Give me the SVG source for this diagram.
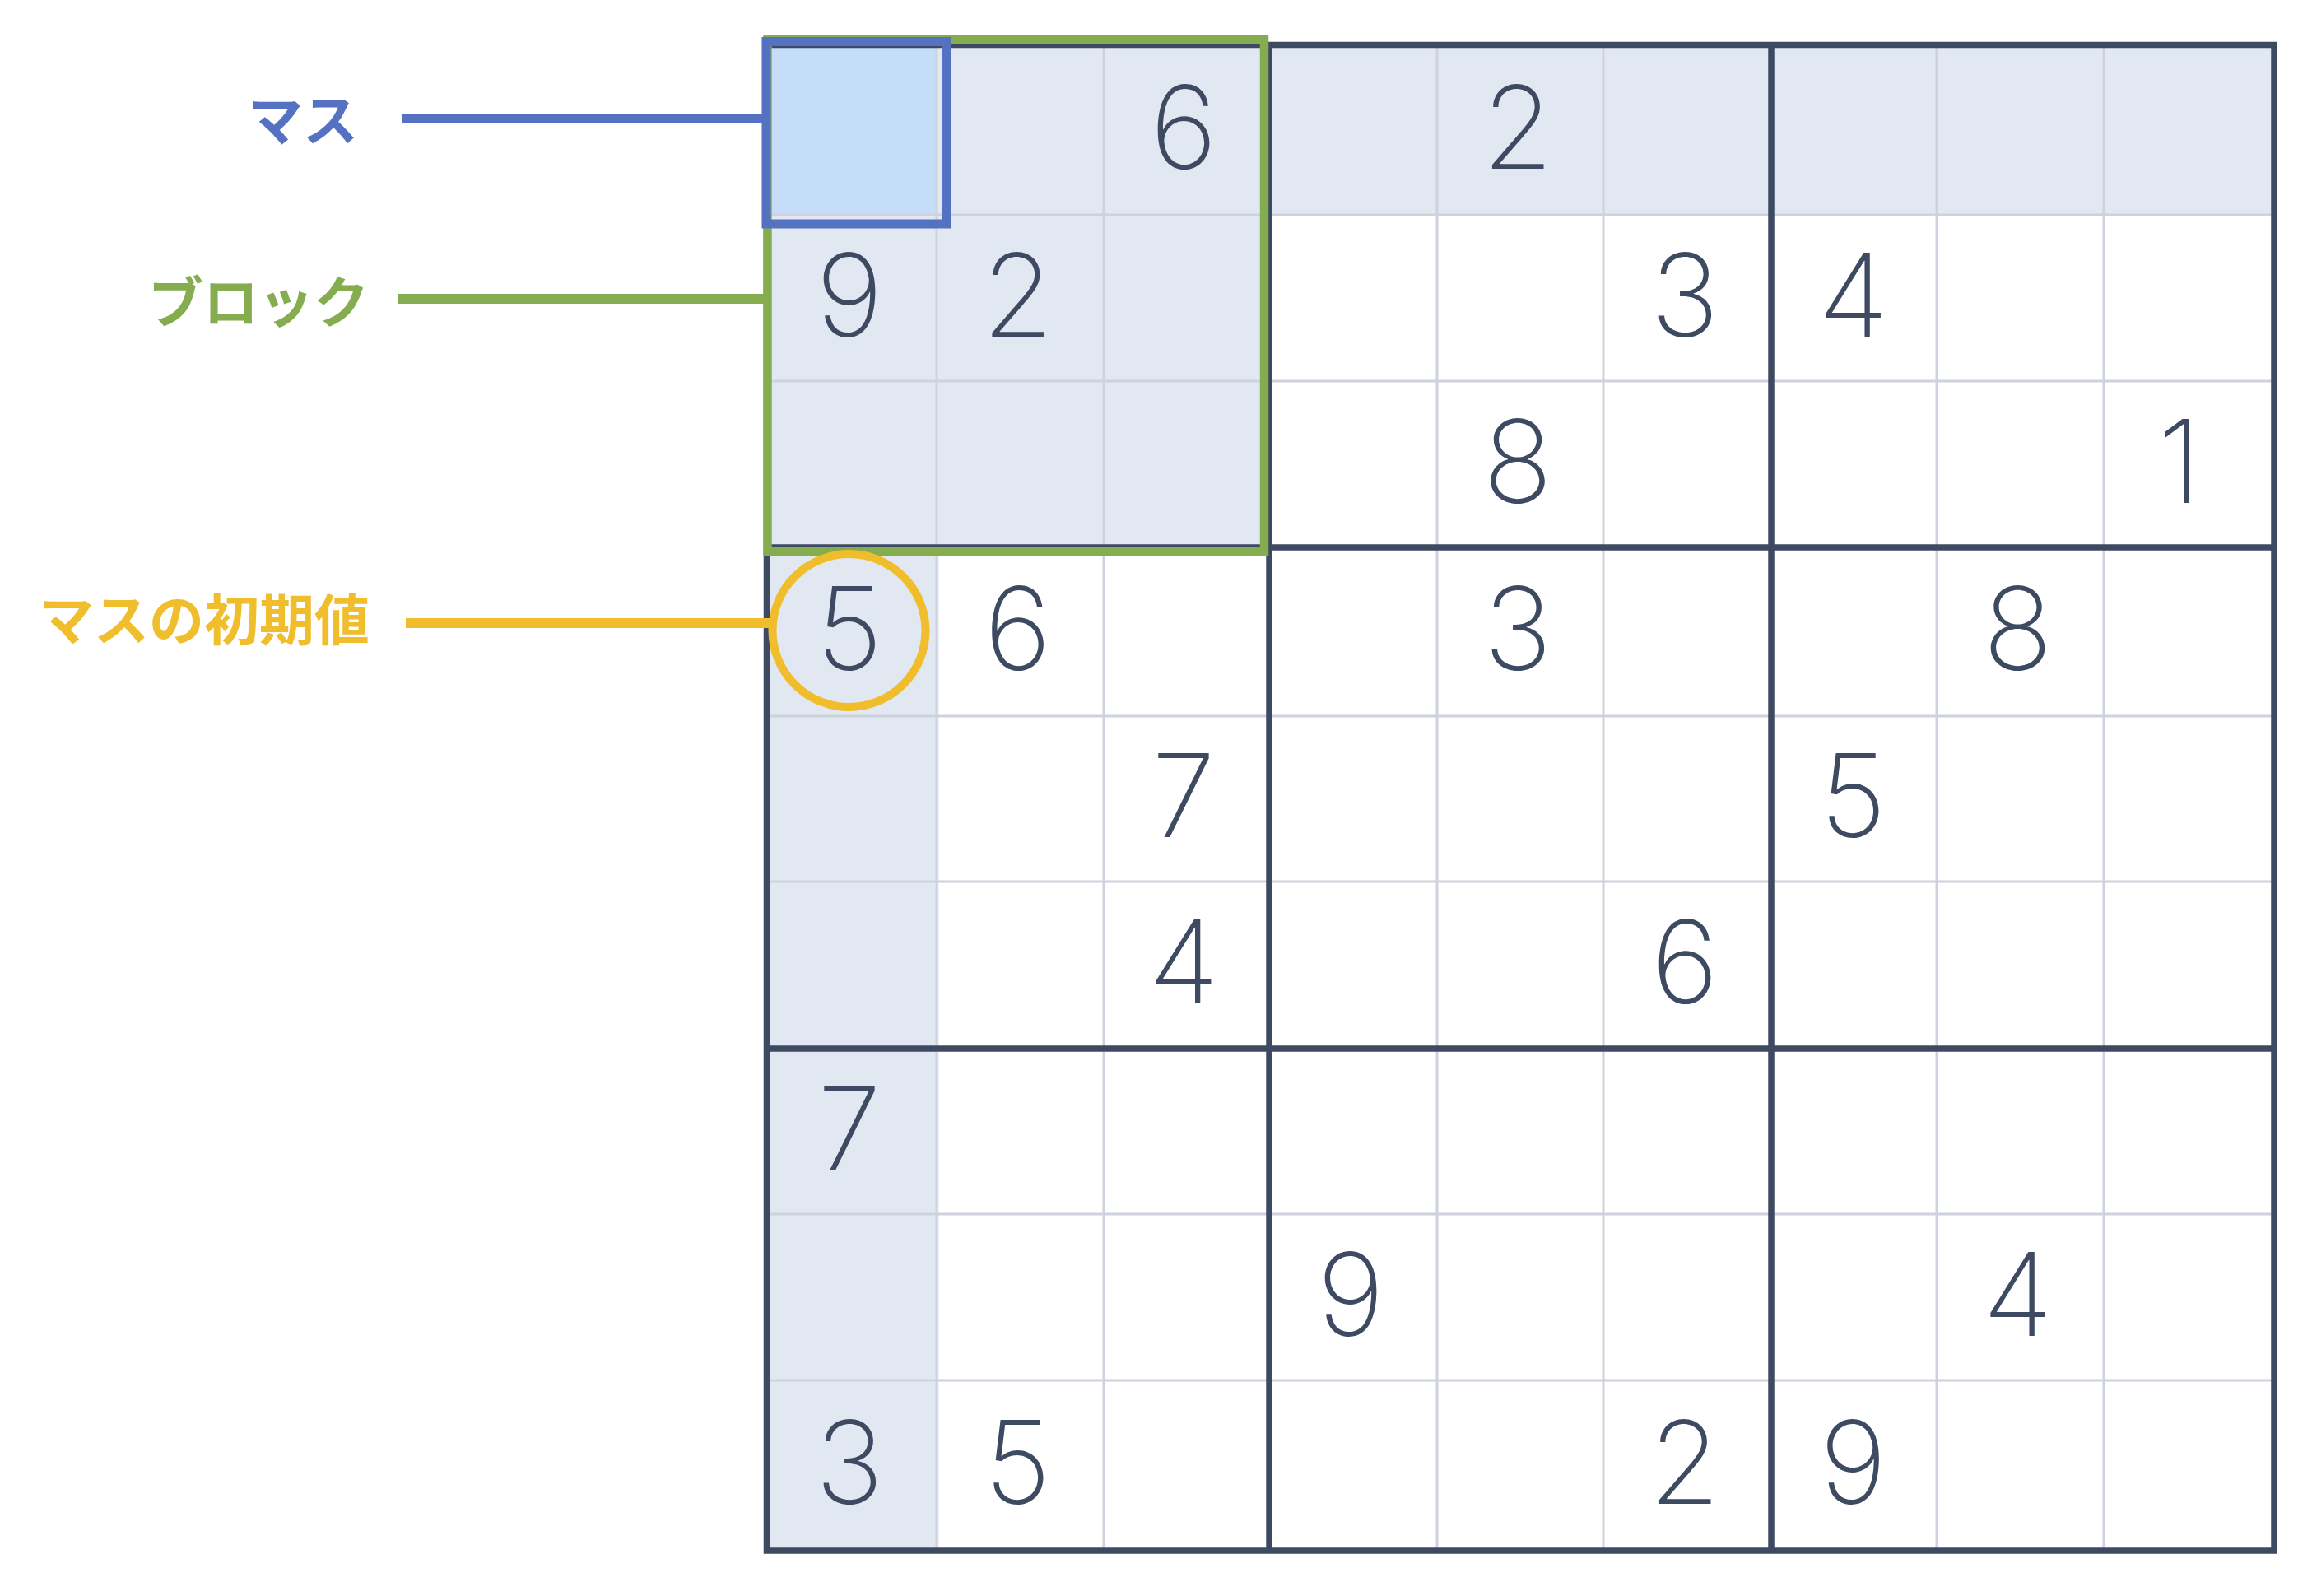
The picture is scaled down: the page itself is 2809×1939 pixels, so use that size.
<svg xmlns="http://www.w3.org/2000/svg" width="2809" height="1939" viewBox="0 0 2809 1939">
  <style>
    .shade { fill: #E2E8F1; }
    .thin { stroke: #CDD2DE; stroke-width: 3; fill: none; }
    .thick { stroke: #3D4A62; stroke-width: 7.5; fill: none; }
    .digit { font-family: Inter, Roboto, "Liberation Sans", sans-serif; font-weight: 250; font-size: 140px; fill: #3D4A62; text-anchor: middle; }
    .label { font-family: "Noto Sans CJK JP", "Noto Sans CJK SC", sans-serif; font-weight: 700; font-size: 67px; text-anchor: end; }
  </style>
  <rect x="0" y="0" width="2809" height="1939" fill="#FFFFFF"/>

  <g id="grid">
    <rect class="shade" x="931.5" y="54.5" width="1831.5" height="206.5"/>
    <rect class="shade" x="931.5" y="54.5" width="209" height="1829.5"/>
    <rect class="shade" x="931.5" y="54.5" width="610.5" height="610.5"/>
    <rect id="cell-highlight" x="931.5" y="54.5" width="206.5" height="206.5" fill="#C5DDF8"/>
    <g class="thin">
      <line x1="1138" y1="54.5" x2="1138" y2="1884"/>
      <line x1="1341" y1="54.5" x2="1341" y2="1884"/>
      <line x1="1746" y1="54.5" x2="1746" y2="1884"/>
      <line x1="1948" y1="54.5" x2="1948" y2="1884"/>
      <line x1="2353" y1="54.5" x2="2353" y2="1884"/>
      <line x1="2556" y1="54.5" x2="2556" y2="1884"/>
      <line x1="931.5" y1="261" x2="2763" y2="261"/>
      <line x1="931.5" y1="463" x2="2763" y2="463"/>
      <line x1="931.5" y1="870" x2="2763" y2="870"/>
      <line x1="931.5" y1="1071" x2="2763" y2="1071"/>
      <line x1="931.5" y1="1475" x2="2763" y2="1475"/>
      <line x1="931.5" y1="1677" x2="2763" y2="1677"/>
    </g>
    <g class="thick">
      <line x1="1542" y1="54.5" x2="1542" y2="1884"/>
      <line x1="2152" y1="54.5" x2="2152" y2="1884"/>
      <line x1="931.5" y1="665" x2="2763" y2="665"/>
      <line x1="931.5" y1="1274" x2="2763" y2="1274"/>
      <rect x="931.5" y="54.5" width="1831.5" height="1829.5"/>
    </g>
  </g>

  <g id="digits" class="digit">
    <text x="1438" y="204.5">6</text>
    <text x="1844" y="204.5">2</text>
    <text x="1032" y="408.5">9</text>
    <text x="1236.5" y="408.5">2</text>
    <text x="2047" y="408.5">3</text>
    <text x="2251.5" y="408.5">4</text>
    <text x="1844" y="610.5">8</text>
    <text x="2648" y="610.5">1</text>
    <text x="1032" y="814">5</text>
    <text x="1236.5" y="814">6</text>
    <text x="1844" y="814">3</text>
    <text x="2451.5" y="814">8</text>
    <text x="1438" y="1017">7</text>
    <text x="2251.5" y="1017">5</text>
    <text x="1438" y="1219">4</text>
    <text x="2047" y="1219">6</text>
    <text x="1032" y="1421">7</text>
    <text x="1641" y="1622.5">9</text>
    <text x="2451.5" y="1622.5">4</text>
    <text x="1032" y="1827">3</text>
    <text x="1236.5" y="1827">5</text>
    <text x="2047" y="1827">2</text>
    <text x="2251.5" y="1827">9</text>
  </g>

  <g id="block-highlight">
    <rect x="932.5" y="48" width="603.5" height="622" fill="none" stroke="#85AD50" stroke-width="10.5"/>
  </g>
  <g id="masu-highlight">
    <rect x="931" y="50.5" width="219.5" height="221.5" fill="none" stroke="#5471C2" stroke-width="11"/>
  </g>
  <g id="initial-highlight">
    <circle cx="1031.5" cy="766" r="93" fill="none" stroke="#F0BE2D" stroke-width="10"/>
  </g>

  <g id="connectors" stroke-width="12">
    <line x1="489" y1="144" x2="926" y2="144" stroke="#5471C2"/>
    <line x1="484" y1="363" x2="928" y2="363" stroke="#85AD50"/>
    <line x1="493" y1="757" x2="938" y2="757" stroke="#F0BE2D"/>
  </g>

  <g id="label-masu">
    <text class="label" x="435" y="171" fill="#5471C2">マス</text>
  </g>
  <g id="label-block">
    <text class="label" x="448" y="392" fill="#85AD50">ブロック</text>
  </g>
  <g id="label-initial">
    <text class="label" x="449" y="778" fill="#F0BE2D">マスの初期値</text>
  </g>
</svg>
